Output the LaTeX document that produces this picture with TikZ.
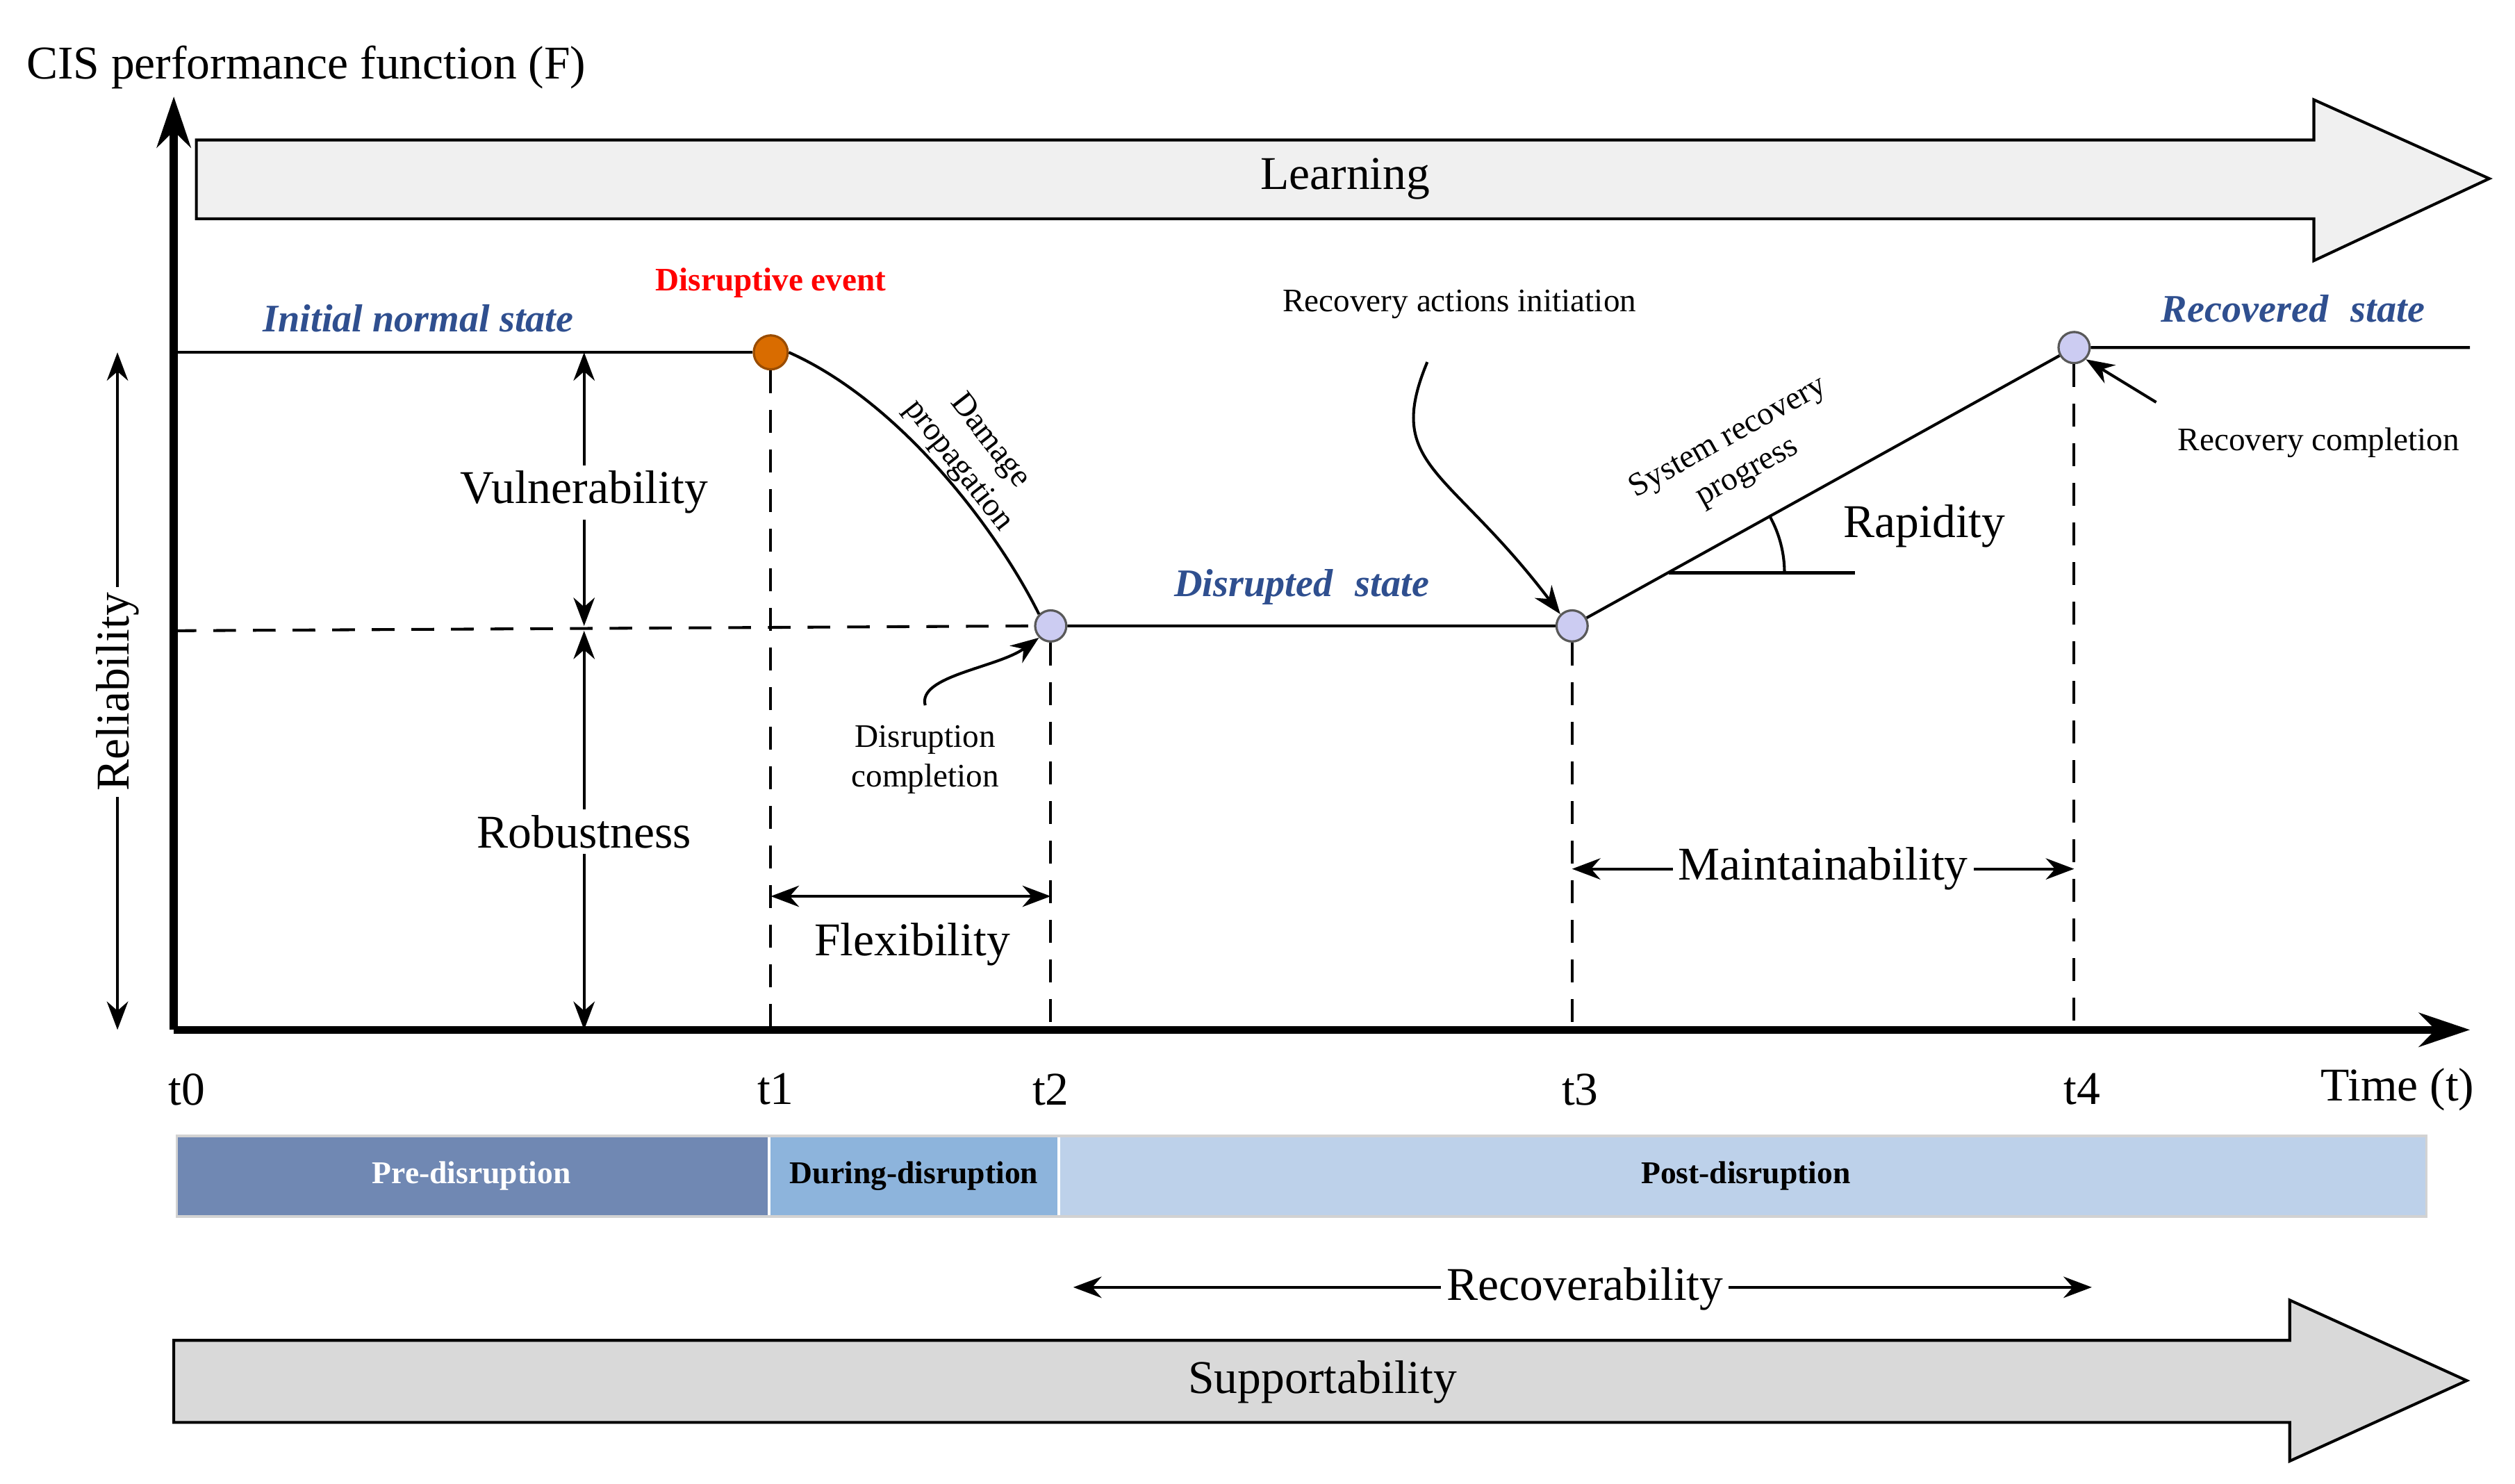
\documentclass[tikz,border=0pt]{standalone}
\usepackage{fontspec}
\setmainfont{Liberation Serif}
\usetikzlibrary{arrows.meta,shapes.arrows}
\definecolor{sblue}{HTML}{2F4F8F}
\definecolor{preC}{HTML}{7088B3}
\definecolor{durC}{HTML}{8DB4DC}
\definecolor{postC}{HTML}{BDD1EA}
\begin{document}
\begin{tikzpicture}[x=0.01cm,y=-0.01cm,
  big/.style={font=\fontsize{8.3}{10}\selectfont},
  small/.style={font=\fontsize{5.8}{7}\selectfont},
  state/.style={font=\fontsize{6.9}{8}\selectfont\bfseries\itshape,text=sblue},
  dsh/.style={line width=0.5pt,dash pattern=on 4pt off 3pt},
  dbl/.style={{Stealth[length=5pt]}-{Stealth[length=5pt]},line width=0.5pt},
  pt/.style={circle,draw=gray!70!black,fill=gray!40!blue!25,minimum size=5.5pt,inner sep=0pt,line width=0.4pt},
  barlbl/.style={font=\fontsize{5.6}{7}\selectfont\bfseries}]
\useasboundingbox (0,0) rectangle (1563,922);
% Learning arrow
\draw[fill=gray!12,line width=0.5pt] (122,87) -- (1438,87) -- (1438,62) -- (1547,111) -- (1438,162) -- (1438,136) -- (122,136) -- cycle;
\node[big] (learn) at (836,111) {Learning};
% Supportability arrow
\draw[fill=gray!30,line width=0.5pt] (108,833) -- (1423,833) -- (1423,808) -- (1533,858) -- (1423,908) -- (1423,884) -- (108,884) -- cycle;
\node[big] (supp) at (822,859) {Supportability};
% axes
\coordinate (O) at (108,640);
\coordinate (ytop) at (108,60);
\coordinate (xend) at (1535,640);
\draw[line width=1.4pt,-{Stealth[length=9pt,width=6pt]}] (O) -- (ytop);
\draw[line width=1.4pt,-{Stealth[length=9pt,width=6pt]}] (O) -- (xend);
\node[big,anchor=west] (title) at (4,42) {CIS performance function (F)};
\node[big] (time) at (1490,677) {Time (t)};
\foreach \n/\x in {t0/116,t1/482,t2/653,t3/982,t4/1294}{\node[big] (\n) at (\x,677) {\n};}
% performance curve
\node[circle,draw=orange!60!black,fill=orange!85!black,minimum size=6pt,inner sep=0pt] (P1) at (479,219) {};
\node[pt] (P2) at (653,389) {};
\node[pt] (P3) at (977,389) {};
\node[pt] (P4) at (1289,216) {};
\coordinate (L0) at (108,219);
\coordinate (R0) at (1535,216);
\draw[line width=0.5pt] (L0) -- (P1);
\draw[line width=0.5pt] (P1.east) .. controls (560,250) and (620,330) .. (P2.north west);
\draw[line width=0.5pt] (P2) -- (P3) -- (P4) -- (R0);
% dashed lines
\coordinate (D0) at (108,392);
\draw[dsh] (D0) -- (P2.west);
\foreach \p/\x in {P1/479,P2/653,P3/977,P4/1289}{\draw[dsh] (\p.south) -- (\x,640);}
% vertical arrows
\coordinate (V1) at (363,219); \coordinate (V2) at (363,389); \coordinate (V3) at (363,392); \coordinate (V4) at (363,640);
\draw[dbl] (V1) -- (V2);
\draw[dbl] (V3) -- (V4);
\node[big,fill=white,inner sep=1pt] (vul) at (363,306) {Vulnerability};
\node[big,fill=white,inner sep=1pt] (rob) at (363,517) {Robustness};
\coordinate (R1) at (73,219); \coordinate (R2) at (73,640);
\draw[dbl] (R1) -- (R2);
\node[big,rotate=90,fill=white,inner sep=1pt] (rel) at (73,430) {Reliability};
% horizontal arrows
\coordinate (F1) at (479,557); \coordinate (F2) at (653,557);
\draw[dbl] (F1) -- (F2);
\node[big] (flex) at (567,587) {Flexibility};
\coordinate (M1) at (977,540); \coordinate (M2) at (1289,540);
\draw[dbl] (M1) -- (M2);
\node[big,fill=white,inner sep=1pt] (main) at (1133,540) {Maintainability};
\coordinate (C1) at (667,800); \coordinate (C2) at (1300,800);
\draw[dbl] (C1) -- (C2);
\node[big,fill=white,inner sep=1pt] (rec) at (985,801) {Recoverability};
% rapidity
\coordinate (RA) at (1037,356); \coordinate (RB) at (1153,356);
\draw[line width=0.5pt] (RA) -- (RB);
\draw[line width=0.5pt] (1109,356) arc[start angle=0,end angle=-29,radius=72];
\node[big] (rap) at (1196,327) {Rapidity};
% phase bars
\fill[preC] (110,706) rectangle (477,756);
\fill[durC] (479,706) rectangle (657,756);
\fill[postC] (659,706) rectangle (1508,756);
\draw[gray!35,line width=0.4pt] (110,706) rectangle (1508,756);
\node[barlbl,text=white] (pre) at (293,731) {Pre-disruption};
\node[barlbl] (dur) at (568,731) {During-disruption};
\node[barlbl] (post) at (1085,731) {Post-disruption};
% state labels
\node[state] (ins) at (260,198) {Initial normal state};
\node[font=\fontsize{5.8}{7}\selectfont\bfseries,text=red] (dis) at (479,176) {Disruptive event};
\node[state] (dss) at (809,365) {Disrupted\,\, state};
\node[state] (rss) at (1425,192) {Recovered\,\, state};
\node[small] (rai) at (907,189) {Recovery actions initiation};
\node[small] (rcomp) at (1441,275) {Recovery completion};
\node[small,align=center] (dcomp) at (575,472) {Disruption\\completion};
\node[small,align=center,rotate=-52] (dmg) at (605,282) {Damage\\propagation};
\node[small,align=center,rotate=29] (srp) at (1080,283) {System recovery\\progress};
% pointer arrows
\coordinate (a1) at (887,225);
\draw[line width=0.5pt,-{Stealth[length=5pt]}] (a1) .. controls (860,290) and (900,290) .. (P3.north west);
\coordinate (a2) at (1340,250);
\draw[line width=0.5pt,-{Stealth[length=5pt]}] (a2) -- (P4.south east);
\draw[line width=0.5pt,-{Stealth[length=5pt]}] (dcomp.north) .. controls (570,420) and (620,415) .. (P2.south west);
\end{tikzpicture}
\end{document}
